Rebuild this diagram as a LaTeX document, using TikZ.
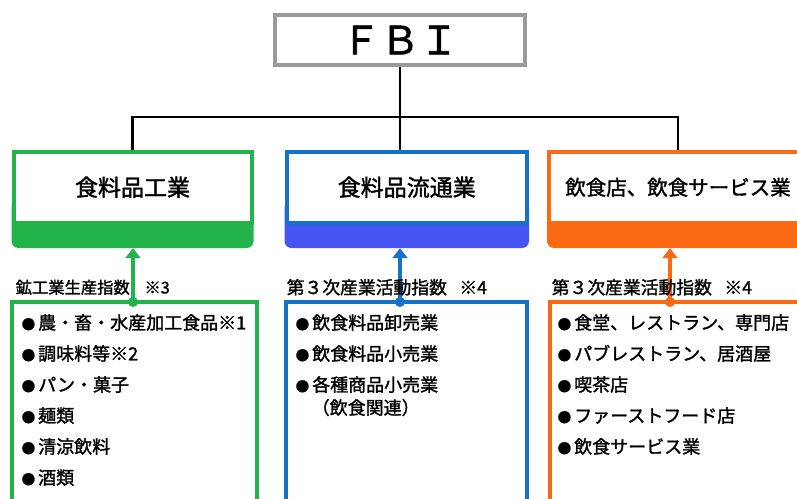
\documentclass[tikz,border=0pt]{standalone}
\usepackage{xcolor}
\usepackage{fontspec}
\setmainfont{Noto Sans CJK JP}[FakeBold=1.5]
\usepackage{tikz}
\usetikzlibrary{arrows.meta}
\definecolor{fbigray}{RGB}{155,155,155}
\definecolor{foodgreen}{RGB}{34,180,75}
\definecolor{distblue}{RGB}{20,115,200}
\definecolor{distband}{RGB}{70,85,240}
\definecolor{dinerorange}{RGB}{250,105,20}
\newcommand{\fsz}[2]{\fontsize{#1}{#2}\selectfont}
\newcommand{\itm}{{\fsz{13.5}{13}●}\hspace{3pt}}

\tikzset{
  conn/.style={draw=black, line width=2.5pt},
  headbox/.style={draw=#1, line width=4pt, fill=white, minimum height=71.5pt,
                  inner sep=0pt, font=\fsz{23}{28}},
  headband/.style={fill=#1, rounded corners=7pt, minimum height=48pt, inner sep=0pt},
  listbox/.style={draw=#1, line width=4pt, minimum height=258pt, inner sep=0pt},
  listtext/.style={anchor=north west, align=left, inner sep=0pt, font=\fsz{18}{31}},
  idxlabel/.style={anchor=base west, inner sep=0pt, font=\fsz{17.8}{20}},
  dot/.style={circle, fill=#1, minimum size=10pt, inner sep=0pt},
  uparrow/.style={draw=#1, line width=3.5pt, -{Triangle[width=15pt,length=10pt]}},
}

\begin{document}
\begin{tikzpicture}[x=1pt, y=-1pt]
  \useasboundingbox (0,0) rectangle (797,498);

  \node[draw=fbigray, line width=4pt, minimum width=250pt, minimum height=50pt,
        inner sep=0pt, font=\fsz{39}{39}] (fbi) at (400,40) {ＦＢＩ};

  % sector heads
  \node[headband=foodgreen, minimum width=242pt] (foodband) at (132.5,224) {};
  \node[headbox=foodgreen, minimum width=238pt] (foodhead) at (132.5,187.25) {食料品工業};
  \node[headband=distband, minimum width=244.5pt] (distband) at (406.75,224) {};
  \node[headbox=distblue, minimum width=240.5pt] (disthead) at (406.75,187.25) {食料品流通業};
  \node[headband=dinerorange, minimum width=262pt] (dinerband) at (678,224) {};
  \node[headbox=dinerorange, minimum width=258pt, font=\fsz{20.5}{24}] (dinerhead)
        at (678,187.25) {飲食店、飲食サービス業};

  \coordinate (bar) at (400,117);
  \draw[conn] (fbi.south) -- (bar);
  \draw[conn] (foodhead.north) |- (bar) -| (dinerhead.north);
  \draw[conn] (bar) -- (bar |- disthead.north);

  % index boxes
  \node[listbox=foodgreen, minimum width=245pt] (foodbox) at (134.5,431) {};
  \node[listbox=distblue, minimum width=241.5pt] (distbox) at (406.25,431) {};
  \node[listbox=dinerorange, minimum width=260pt] (dinerbox) at (680,431) {};

  \node[dot=foodgreen] (fooddot) at (133,302) {};
  \node[dot=distblue] (distdot) at (400,302) {};
  \node[dot=dinerorange] (dinerdot) at (670,302) {};
  \draw[uparrow=foodgreen] (fooddot.center) -- (fooddot |- foodband.south);
  \draw[uparrow=distblue] (distdot.center) -- (distdot |- distband.south);
  \draw[uparrow=dinerorange] (dinerdot.center) -- (dinerdot |- dinerband.south);

  \node[idxlabel, font=\fsz{16.3}{20}] (foodidx) at (15.5,293.5) {鉱工業生産指数\hspace{0.9em}※3};
  \node[idxlabel] (distidx) at (286.5,294) {第３次産業活動指数\hspace{0.7em}※4};
  \node[idxlabel] (dineridx) at (551.5,294) {第３次産業活動指数\hspace{0.7em}※4};

  \node[listtext] (foodlist) at (21.5,314) {\itm 農・畜・水産加工食品※1\\ \itm 調味料等※2\\
        \itm パン・菓子\\ \itm 麺類\\ \itm 清涼飲料\\ \itm 酒類};
  \node[listtext] (distlist) at (295.5,314) {\itm 飲食料品卸売業\\ \itm 飲食料品小売業\\
        \itm 各種商品小売業\\[-8pt] \hspace*{16pt}（飲食関連）};
  \node[listtext] (dinerlist) at (557.5,314) {\itm 食堂、レストラン、専門店\\
        \itm パブレストラン、居酒屋\\ \itm 喫茶店\\ \itm ファーストフード店\\ \itm 飲食サービス業};
\end{tikzpicture}
\end{document}
